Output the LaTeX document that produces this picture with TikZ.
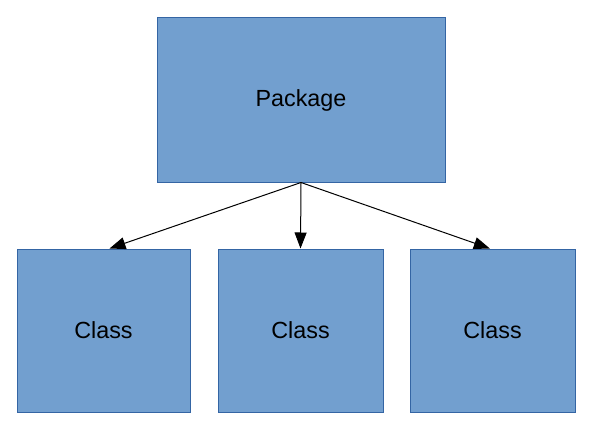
\documentclass[tikz,border=0pt]{standalone}
\usepackage{fontspec}
\setmainfont{Liberation Sans}
\usetikzlibrary{arrows.meta}
\definecolor{boxfill}{HTML}{729FCF}
\definecolor{boxline}{HTML}{3465A4}
\begin{document}
\begin{tikzpicture}[x=0.75pt, y=-0.75pt, font=\fontsize{17.5}{21}\selectfont,
      >={Triangle[length=12pt, width=9pt]},
      box/.style={draw=boxline, fill=boxfill, line width=0.75pt, inner sep=0pt}]
    \useasboundingbox[fill=white] (0,0) rectangle (591,428);
    % the package on top
    \node[box, minimum width=288pt*0.75, minimum height=164pt*0.75] (pkg) at (301,100) {Package};
    % the three classes below
    \node[box, minimum width=173pt*0.75, minimum height=163pt*0.75] (cls1) at (103.5,330.5) {Class};
    \node[box, minimum width=165pt*0.75, minimum height=163pt*0.75] (cls2) at (300.5,330.5) {Class};
    \node[box, minimum width=165pt*0.75, minimum height=163pt*0.75] (cls3) at (492.5,330.5) {Class};
    % arrows
    \draw[->, line width=0.75pt] (pkg.south) -- ([xshift=4.5pt]cls1.north);
    \draw[->, line width=0.75pt] (pkg.south) -- (cls2.north);
    \draw[->, line width=0.75pt] (pkg.south) -- ([xshift=-2pt]cls3.north);
  \end{tikzpicture}
\end{document}
